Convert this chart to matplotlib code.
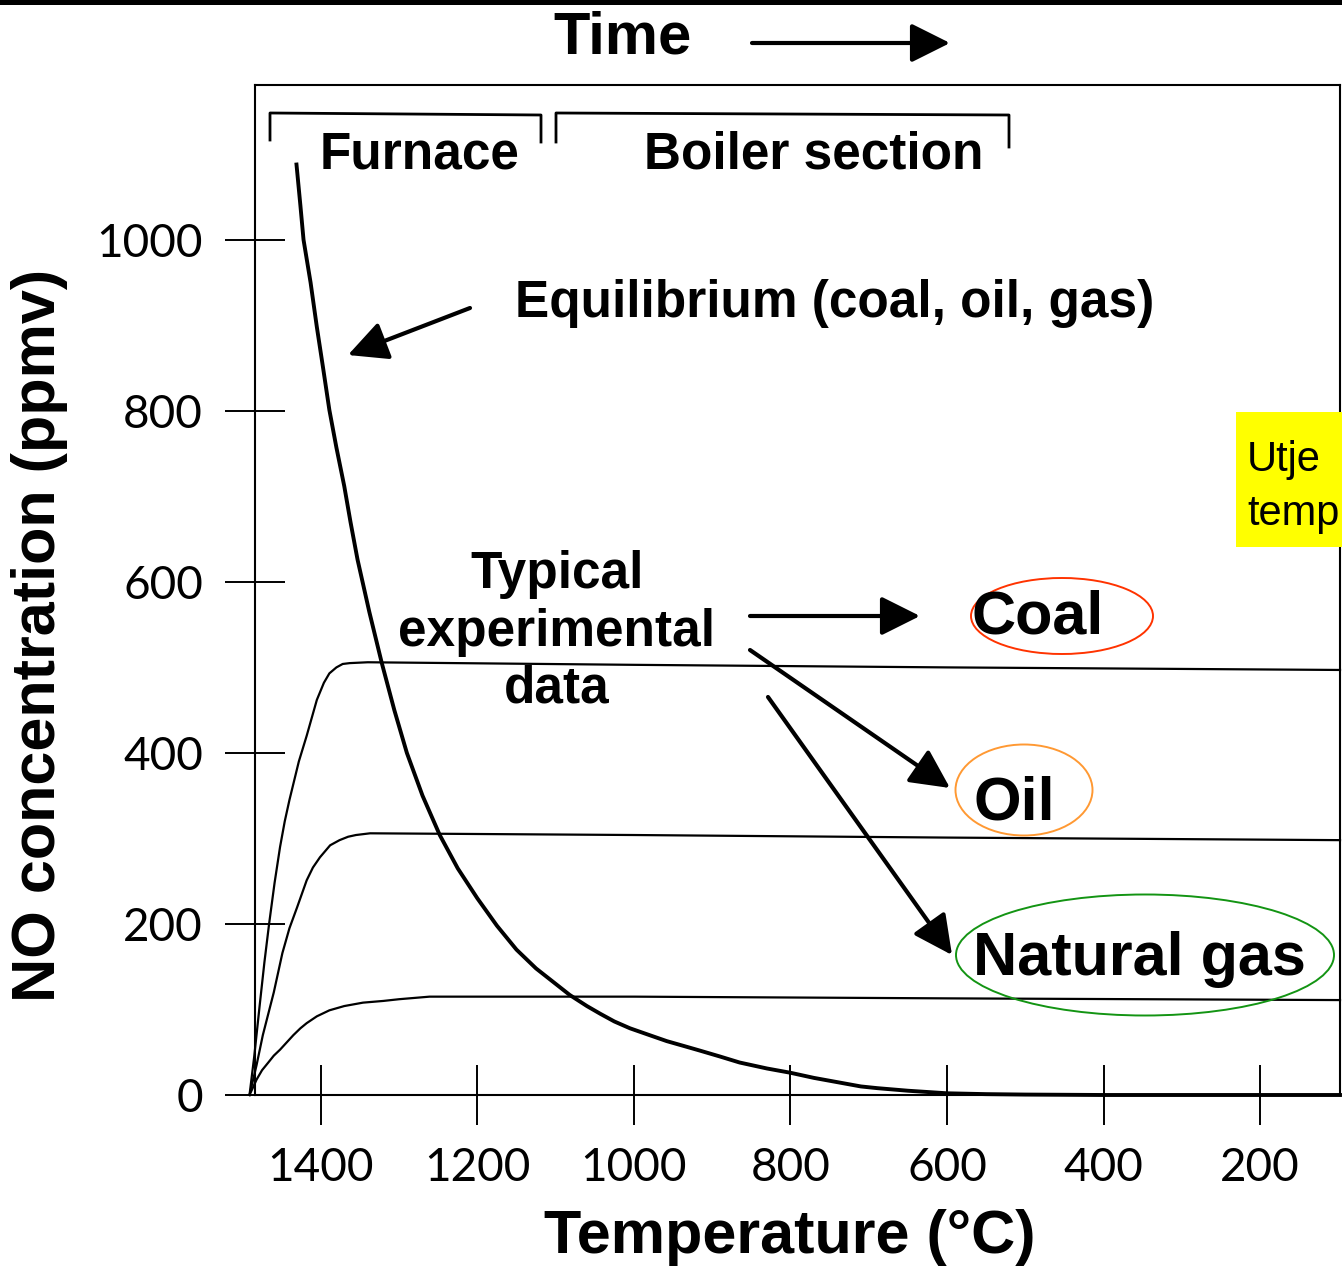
import matplotlib
matplotlib.use("Agg")
import matplotlib.pyplot as plt
from matplotlib.patches import Ellipse, Rectangle, FancyArrowPatch
from matplotlib.lines import Line2D

plt.rcParams['font.family'] = ['Liberation Sans', 'DejaVu Sans']

W, H = 1342, 1271

# Equilibrium NO (coal, oil, gas) versus temperature
eq_temp = [1431, 1426, 1422, 1413, 1405, 1397, 1389, 1380, 1370, 1362, 1353,
           1338, 1322, 1306, 1290, 1270, 1248, 1225, 1200, 1175, 1150, 1125,
           1100, 1082, 1060, 1043, 1025, 1005, 980, 958, 935, 916, 890, 865,
           830, 800, 770, 740, 710, 689, 650, 600, 550, 500, 400, 300, 200, 98]
eq_no = [1088, 1040, 1000, 950, 898, 850, 801, 757, 712, 670, 626, 565, 505,
         450, 400, 350, 304, 265, 230, 198, 170, 148, 130, 117, 104, 95, 86,
         78, 70, 63, 57, 52, 45, 38, 31, 26, 20, 15, 10, 8, 5, 2, 1, 0.5, 0,
         0, 0, 0]

# Typical experimental data
coal_temp = [1491, 1485, 1478, 1472, 1466, 1459, 1452, 1446, 1440, 1428, 1418,
             1405, 1396, 1389, 1380, 1372, 1363, 1340, 1000, 600, 98]
coal_no = [0, 45, 105, 155, 200, 248, 290, 320, 345, 390, 420, 462, 482, 493,
           500, 504, 505, 506, 503, 500, 497]

oil_temp = [1491, 1482, 1474, 1467, 1460, 1449, 1440, 1430, 1418, 1410, 1401,
            1388, 1376, 1365, 1355, 1337, 1000, 600, 98]
oil_no = [0, 35, 70, 95, 120, 166, 195, 220, 251, 266, 278, 292, 298, 302, 304,
          306, 304, 301, 298]

gas_temp = [1491, 1482, 1475, 1467, 1460, 1452, 1443, 1435, 1426, 1418, 1405,
            1389, 1370, 1346, 1320, 1300, 1261, 1000, 600, 98]
gas_no = [0, 18, 29, 38, 46, 53, 62, 70, 78, 84, 92, 99, 104, 108, 110, 112,
          115, 115, 113, 111]

x_ticks = [1400, 1200, 1000, 800, 600, 400, 200]
y_ticks = [0, 200, 400, 600, 800, 1000]


def fx(px):
    return px / W


def fy(py):
    return 1 - py / H


fig = plt.figure(figsize=(W / 100, H / 100), dpi=100)
ax = fig.add_axes([fx(255), fy(1095), (1340 - 255) / W, (1095 - 85) / H])

ax.plot(eq_temp, eq_no, color='black', lw=2.8, clip_on=False, zorder=3,
        solid_joinstyle='round')
for t, v in [(coal_temp, coal_no), (oil_temp, oil_no), (gas_temp, gas_no)]:
    ax.plot(t, v, color='black', lw=1.6, clip_on=False, zorder=3,
            solid_joinstyle='round')

ax.set_xlim(1484, 98)
ax.set_ylim(0, 1181)
ax.set_xticks(x_ticks)
ax.set_yticks(y_ticks)
ax.tick_params(direction='inout', length=43, width=1.4, pad=16,
               labelsize=33, colors='black')
for lab in ax.get_xticklabels() + ax.get_yticklabels():
    lab.set_fontfamily(['Lato', 'DejaVu Sans'])
for sp in ax.spines.values():
    sp.set_linewidth(1.5)
    sp.set_color('black')

# axis titles
fig.text(fx(40), fy(635), 'NO concentration (ppmv)', rotation=90,
         ha='center', va='center', fontsize=44, fontweight='bold')
fig.text(fx(790), fy(1238), 'Temperature (°C)', ha='center', va='center',
         fontsize=44, fontweight='bold')

# black bar at the very top
fig.patches.append(Rectangle((0, fy(5)), 1, 5 / H, transform=fig.transFigure,
                             facecolor='black', edgecolor='none'))

arrow_kw = dict(arrowstyle='-|>', color='black', lw=3, mutation_scale=60,
                shrinkA=0, shrinkB=0)


def arrow(p0, p1):
    fig.add_artist(FancyArrowPatch((fx(p0[0]), fy(p0[1])),
                                   (fx(p1[0]), fy(p1[1])),
                                   transform=fig.transFigure, **arrow_kw))


# Time arrow
fig.text(fx(623), fy(38), 'Time', ha='center', va='center', fontsize=43,
         fontweight='bold')
arrow((752, 43), (950, 43))

# brackets over the furnace and boiler sections
for xs, ys in [([270, 270, 541, 541], [140, 113, 115, 142]),
               ([556, 556, 1009, 1009], [142, 113, 115, 147])]:
    fig.add_artist(Line2D([fx(v) for v in xs], [fy(v) for v in ys],
                          transform=fig.transFigure, color='black', lw=2))
big = 37
fig.text(fx(420), fy(155), 'Furnace', ha='center', va='center', fontsize=big,
         fontweight='bold')
fig.text(fx(814), fy(155), 'Boiler section', ha='center', va='center',
         fontsize=big, fontweight='bold')

fig.text(fx(835), fy(303), 'Equilibrium (coal, oil, gas)', ha='center',
         va='center', fontsize=big, fontweight='bold')
arrow((470, 308), (348, 355))

fig.text(fx(557), fy(632), 'Typical\nexperimental\ndata', ha='center',
         va='center', fontsize=big, fontweight='bold', linespacing=1.22)
arrow((750, 616), (920, 616))
arrow((750, 650), (950, 788))
arrow((768, 697), (952, 955))

fig.text(fx(972), fy(618), 'Coal', ha='left', va='center', fontsize=44,
         fontweight='bold')
fig.text(fx(973), fy(804), 'Oil', ha='left', va='center', fontsize=44,
         fontweight='bold')
fig.text(fx(973), fy(960), 'Natural gas', ha='left', va='center', fontsize=44,
         fontweight='bold')

for (cx, cy, w, h, c) in [(1062, 616, 182, 76, '#ff3300'),
                          (1024, 790, 137, 91, '#ff9933'),
                          (1145, 955, 378, 121, '#139413')]:
    fig.add_artist(Ellipse((fx(cx), fy(cy)), w / W, h / H,
                           transform=fig.transFigure, fill=False,
                           edgecolor=c, lw=1.4))

# yellow note box, cut by the right edge as in the source slide
fig.patches.append(Rectangle((fx(1236), fy(547)), (1342 - 1236) / W,
                             (547 - 412) / H, transform=fig.transFigure,
                             facecolor='#ffff00', edgecolor='none'))
fig.text(fx(1247), fy(525), 'Utje\ntemp', ha='left', va='baseline',
         fontsize=30, linespacing=1.45)

fig.savefig('out.png', dpi=100)
